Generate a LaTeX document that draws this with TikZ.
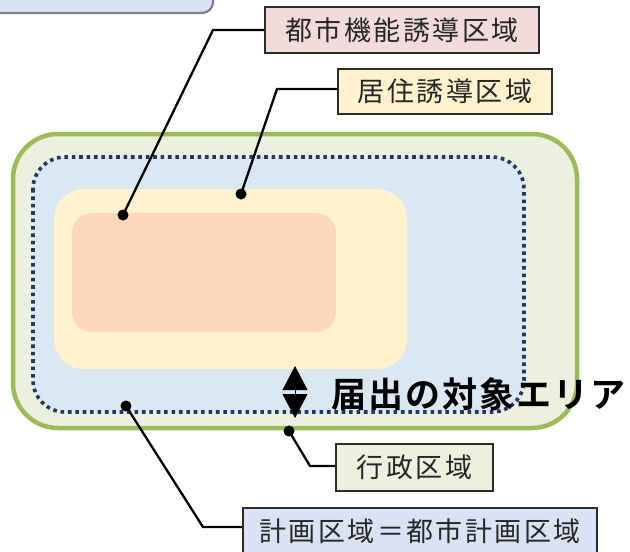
\documentclass[tikz,border=0pt]{standalone}
\usepackage{fontspec}
\newfontfamily\jp[LetterSpace=9]{Noto Sans CJK JP}
\newfontfamily\jpb[LetterSpace=6]{Noto Sans CJK JP Bold}
\usetikzlibrary{arrows.meta}
\definecolor{gborder}{HTML}{9BBB59}
\definecolor{gfill}{HTML}{EBF1DE}
\definecolor{bfill}{HTML}{DCE7F4}
\definecolor{navy}{HTML}{1F3864}
\definecolor{yfill}{HTML}{FFF2CC}
\definecolor{ofill}{HTML}{FCD8B9}
\definecolor{pfill}{HTML}{F2DCDB}
\definecolor{lbfill}{HTML}{DAE3F3}
\definecolor{txt}{HTML}{262626}
\definecolor{edge}{HTML}{2B2B2B}
\tikzset{
  labelbox/.style={draw=edge, line width=2.3pt, text=txt, font=\jp\fontsize{27}{27}\selectfont, inner sep=0pt, anchor=center},
  leader/.style={line width=2.3pt, black},
  pin/.style={circle, fill=black, inner sep=0pt, minimum size=11pt}
}
\begin{document}
\begin{tikzpicture}[x=1pt,y=-1pt]
\useasboundingbox (0,0) rectangle (630,552);
% top-left partial box
\node[draw=gray, fill=lbfill, line width=2.2pt, rounded corners=11pt, minimum width=230pt, minimum height=40pt, inner sep=0pt] (topbox) at (98,-7) {};
% regions
\draw[draw=gborder, fill=gfill, line width=4.5pt, rounded corners=45pt] (13,134) rectangle (577,428);
\draw[draw=navy, fill=bfill, line width=3.6pt, dash pattern=on 3.6pt off 3.8pt, rounded corners=32pt] (33,157) rectangle (524,412);
\fill[yfill, rounded corners=30pt] (54,189) rectangle (407,369);
\fill[ofill, rounded corners=20pt] (72,213) rectangle (336,332);
% dots
\node[pin] (d1) at (123,215) {};
\node[pin] (d2) at (241,194) {};
\node[pin] (d3) at (126,406) {};
\node[pin] (d4) at (289,431) {};
% label boxes
\node[labelbox, fill=pfill, minimum width=274pt, minimum height=46pt] (kino) at (402,30) {都市機能誘導区域};
\node[labelbox, fill=yfill, minimum width=214pt, minimum height=45pt] (kyoju) at (445,91.5) {居住誘導区域};
\node[labelbox, fill=gfill, minimum width=157pt, minimum height=47pt] (gyosei) at (414.5,467.5) {行政区域};
\node[labelbox, fill=lbfill, minimum width=354pt, minimum height=47pt] (keikaku) at (420,531.5) {計画区域＝都市計画区域};
% leaders
\coordinate (b1) at (213,30);
\coordinate (b2) at (277,89);
\coordinate (b3) at (310,466);
\coordinate (b4) at (203,527);
\draw[leader] (kino.west |- b1) -- (b1) -- (d1.center);
\draw[leader] (kyoju.west |- b2) -- (b2) -- (d2.center);
\draw[leader] (d4.center) -- (b3) -- (gyosei.west |- b3);
\draw[leader] (d3.center) -- (b4) -- (keikaku.west |- b4);
% double arrow
\coordinate (a1) at (295,366);
\coordinate (a2) at (295,418);
\draw[line width=0.8pt, {Triangle[length=24pt,width=25pt]}-{Triangle[length=24pt,width=25pt]}] (a1) -- (a2);
\node[font=\jpb\fontsize{35}{35}\selectfont, anchor=west, inner sep=0pt] (todoke) at (331,394) {届出の対象エリア};
\end{tikzpicture}
\end{document}
